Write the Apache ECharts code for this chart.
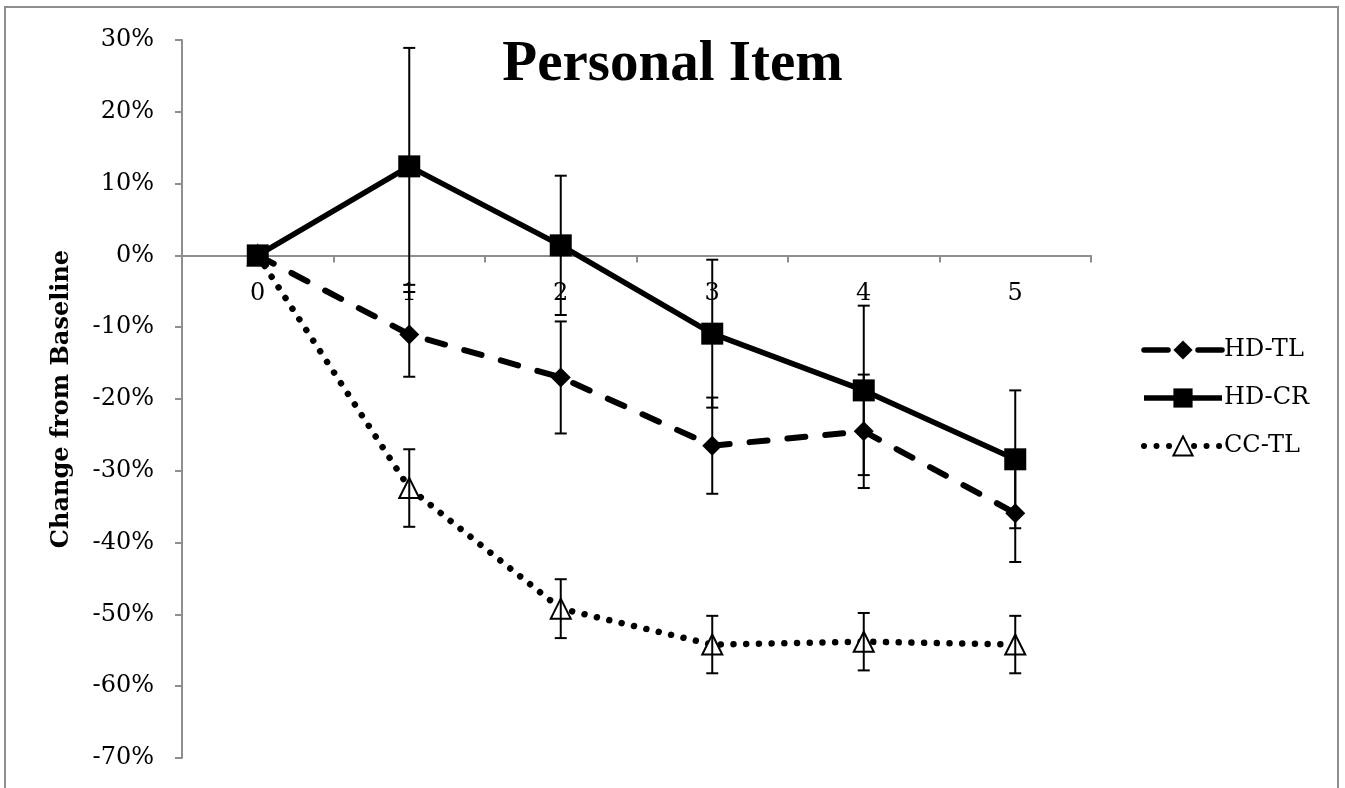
<!DOCTYPE html>
<html>
<head>
<meta charset="utf-8">
<script src="https://cdn.jsdelivr.net/npm/echarts@6/dist/echarts.min.js"></script>
<style>
html,body{margin:0;padding:0;background:#fff;}
#chart{width:1345px;height:788px;}
</style>
</head>
<body>
<div id="chart"></div>
<script>
// ---- data (percent change from baseline) ----
const categories = ['0', '1', '2', '3', '4', '5'];
const seriesNames = ['HD-TL', 'HD-CR', 'CC-TL'];
const hdtl = [0, -11.0, -17.0, -26.5, -24.5, -35.9];
const hdtlErr = [0, 5.9, 7.8, 6.7, 7.9, 6.8];
const hdcr = [0, 12.4, 1.4, -10.9, -18.8, -28.4];
const hdcrErr = [0, 16.5, 9.7, 10.3, 11.8, 9.6];
const cctl = [0, -32.4, -49.2, -54.2, -53.8, -54.2];
const cctlErr = [0, 5.4, 4.1, 4.0, 4.0, 4.0];
const yTicks = { min: -70, max: 30, interval: 10 };
const titleText = 'Personal Item';
const yAxisName = 'Change from Baseline';

function errData(vals, errs) {
  const out = [];
  vals.forEach(function (v, i) {
    if (errs[i] > 0) out.push([i, v - errs[i], v + errs[i]]);
  });
  return out;
}

function errorBarSeries(vals, errs) {
  return {
    type: 'custom',
    z: 10,
    silent: true,
    data: errData(vals, errs),
    encode: { x: 0, y: [1, 2] },
    renderItem: function (params, api) {
      const x = api.value(0);
      const lo = api.coord([x, api.value(1)]);
      const hi = api.coord([x, api.value(2)]);
      const w = 6;
      const st = { stroke: '#000', lineWidth: 2 };
      return {
        type: 'group',
        children: [
          { type: 'line', shape: { x1: hi[0], y1: hi[1], x2: lo[0], y2: lo[1] }, style: st },
          { type: 'line', shape: { x1: hi[0] - w, y1: hi[1], x2: hi[0] + w, y2: hi[1] }, style: st },
          { type: 'line', shape: { x1: lo[0] - w, y1: lo[1], x2: lo[0] + w, y2: lo[1] }, style: st }
        ]
      };
    }
  };
}

const gridTop = 40, gridHeight = 718;
// place the category axis at the y = 0 line
const xAxisOffset = -gridHeight * (0 - yTicks.min) / (yTicks.max - yTicks.min);

const serifFont = '"DejaVu Serif", serif';
const chart = echarts.init(document.getElementById('chart'));
chart.setOption({
  backgroundColor: '#fff',
  animation: false,
  graphic: [{
    type: 'rect',
    shape: { x: 5, y: 7, width: 1333, height: 800 },
    style: { fill: 'none', stroke: '#8e8e8e', lineWidth: 2 },
    z: -1
  }],
  title: {
    text: titleText,
    left: 'center',
    top: 37,
    padding: 0,
    textStyle: { fontFamily: '"Liberation Serif", serif', fontWeight: 'bold', fontSize: 57, color: '#000' }
  },
  legend: {
    data: [
      { name: seriesNames[0], lineStyle: { type: [24, 30, 24], width: 5.5, cap: 'round' } },
      { name: seriesNames[1], lineStyle: { width: 5.5 } },
      { name: seriesNames[2], lineStyle: { type: [0.01, 12.5], width: 6, cap: 'round' } }
    ],
    orient: 'vertical',
    left: 1136,
    top: 333,
    itemWidth: 78,
    itemHeight: 24,
    itemGap: 24,
    textStyle: { fontFamily: serifFont, fontSize: 24, color: '#000', lineHeight: 24, padding: [0, 0, 0, -3] }
  },
  grid: { left: 182, top: gridTop, width: 909, height: gridHeight, outerBoundsMode: 'none', containLabel: false },
  xAxis: {
    type: 'category',
    data: categories,
    boundaryGap: true,
    offset: xAxisOffset,
    axisLine: { onZero: false, lineStyle: { color: '#8e8e8e', width: 2 } },
    axisTick: { show: true, length: 7, interval: 0, lineStyle: { color: '#8e8e8e', width: 2 } },
    axisLabel: { margin: 26, fontFamily: serifFont, fontSize: 24, color: '#000' },
    splitLine: { show: false }
  },
  yAxis: {
    type: 'value',
    min: yTicks.min,
    max: yTicks.max,
    interval: yTicks.interval,
    name: yAxisName,
    nameLocation: 'middle',
    nameRotate: 90,
    nameGap: 108,
    nameTextStyle: { fontFamily: serifFont, fontWeight: 'bold', fontSize: 24, color: '#000' },
    axisLine: { show: true, lineStyle: { color: '#8e8e8e', width: 2 } },
    axisTick: { show: true, length: 7, lineStyle: { color: '#8e8e8e', width: 2 } },
    axisLabel: { margin: 28, formatter: '{value}%', fontFamily: serifFont, fontSize: 24, color: '#000' },
    splitLine: { show: false }
  },
  series: [
    {
      name: 'HD-TL', type: 'line', data: hdtl,
      symbol: 'diamond', symbolSize: 20,
      itemStyle: { color: '#000' },
      lineStyle: { color: '#000', width: 6, type: [18, 20], cap: 'round' },
      z: 3
    },
    {
      name: 'CC-TL', type: 'line', data: cctl,
      symbol: 'triangle', symbolSize: 20,
      itemStyle: { color: '#fff', borderColor: '#000', borderWidth: 2 },
      lineStyle: { color: '#000', width: 6.5, type: [0.01, 12.7], cap: 'round' },
      z: 3
    },
    {
      name: 'HD-CR', type: 'line', data: hdcr,
      symbol: 'rect', symbolSize: 22,
      itemStyle: { color: '#000' },
      lineStyle: { color: '#000', width: 5.5 },
      z: 4
    },
    errorBarSeries(hdtl, hdtlErr),
    errorBarSeries(hdcr, hdcrErr),
    errorBarSeries(cctl, cctlErr)
  ]
});
</script>
</body>
</html>
